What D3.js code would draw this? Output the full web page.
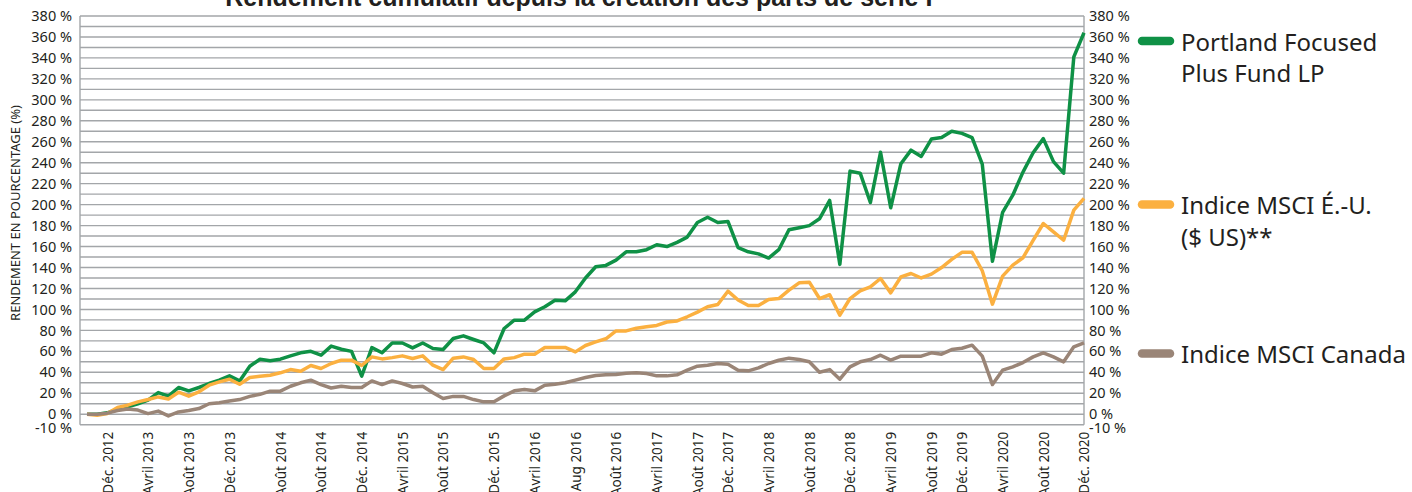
<!DOCTYPE html>
<html>
<head>
<meta charset="utf-8">
<script src="https://cdn.jsdelivr.net/npm/d3@7"></script>
<style>
  body { margin: 0; background: #fff; }
  svg { display: block; font-family: "Noto Sans", sans-serif; }
</style>
</head>
<body>
<svg id="chart" width="1412" height="492"></svg>
<script>
// monthly cumulative returns (%), Oct 2012 -> Dec 2020
const portland = [
    0, 0, 1.3, 4.8, 7, 10, 13.4, 20.7, 17.2, 25.5, 22.3, 25.5, 29.3, 32.5, 36.6, 31.8,
    45.8, 52.5, 51, 52.5, 55.7, 58.6, 60, 56.3, 65, 62, 60, 36.3, 63.6, 58.6, 68, 68,
    63.3, 68, 62.7, 61.7, 72.2, 74.8, 71.3, 68, 58.6, 81.8, 89.7, 89.7, 97.7, 102.5, 108.8, 108.2,
    116.8, 130, 140.7, 142, 147, 155, 155, 157, 161.7, 160, 164, 169, 183, 188, 183, 184,
    159, 155, 153, 149, 157, 176, 178, 180, 186.5, 204, 143, 232, 230, 202, 250, 197,
    239, 252, 246, 262.6, 264, 270, 268, 264, 238.7, 146, 192.6, 209, 231, 249.5, 263, 241,
    230, 341, 364
];
const msciUS = [
    0, -1, 0.6, 6.4, 8.6, 11.8, 14, 16.5, 14.6, 21, 17.2, 21.3, 27.7, 30.9, 33.4, 28.6,
    35, 36.3, 37.2, 39.5, 42.6, 41, 46.5, 43.6, 48.4, 51.6, 51.6, 46.5, 54.7, 52.8, 54, 55.7,
    53.2, 55.7, 46.8, 42.6, 53.5, 54.7, 52.2, 43.6, 43.6, 52.8, 54, 57.3, 57.3, 63.7, 63.7, 63.7,
    59.5, 65.6, 69, 72, 79.5, 79.5, 82, 83.4, 84.7, 88, 89, 93, 97.4, 102.5, 104.7, 117.4,
    109, 103.8, 103.8, 109.5, 110.4, 118.4, 125.4, 126, 110.4, 114, 94.5, 110.4, 117.8, 121.6, 129.5, 115.8,
    131, 134.3, 130, 133.7, 140, 147.7, 154.5, 154.5, 136.9, 105, 131.8, 142.3, 149.3, 166, 182, 174,
    166, 194.8, 206
];
const msciCanada = [
    0, 0, 1, 3.5, 5, 4, 0.6, 3, -1.6, 2.2, 3.5, 5.4, 10, 11, 12.7, 14,
    17, 19, 22, 22, 26.7, 30, 32.5, 28.3, 25, 26.7, 25.5, 25.5, 31.8, 28.3, 31.8, 29.3,
    26, 26.7, 20.4, 15, 17, 17, 14, 11.8, 11.8, 17.5, 22.3, 23.5, 22.3, 27.7, 28.6, 30,
    32.5, 35, 37, 37.6, 38, 39, 39.5, 38.8, 36.6, 36.6, 37.6, 42, 45.8, 46.8, 48.4, 47.7,
    42, 41.4, 44.2, 48.4, 51.5, 53.5, 52.2, 50, 40, 42.6, 33.4, 45.2, 50, 52.2, 56.3, 51.6,
    55.4, 55.4, 55.4, 58.6, 57.3, 61.7, 63, 65.9, 55.4, 28.3, 42, 45.2, 49.3, 54.7, 58.6, 54.7,
    50, 64.3, 68.1
];

// x axis labels (as printed) and the month index they sit on
const tickLabels = ["Déc. 2012", "Avril 2013", "Août 2013", "Déc. 2013", "Août 2014", "Août 2014",
    "Déc. 2014", "Avril 2015", "Août 2015", "Déc. 2015", "Avril 2016", "Aug 2016", "Août 2016",
    "Avril 2017", "Août 2017", "Déc. 2017", "Avril 2018", "Août 2018", "Déc. 2018", "Avril 2019",
    "Août 2019", "Déc. 2019", "Avril 2020", "Août 2020", "Déc. 2020"];
const tickMonths = [2, 6, 10, 14, 19, 23, 27, 31, 35, 40, 44, 48, 52, 56, 60, 63,
    67, 71, 75, 79, 83, 86, 90, 94, 98];

const yTicks = [-10, 0, 20, 40, 60, 80, 100, 120, 140, 160, 180, 200, 220, 240, 260,
    280, 300, 320, 340, 360, 380];

const seriesNames = [["Portland Focused", "Plus Fund LP"], ["Indice MSCI É.-U.", "($ US)**"], ["Indice MSCI Canada"]];
const seriesColors = ["#0f9146", "#fbb040", "#9a8577"];
const seriesData = [portland, msciUS, msciCanada];

const title = "Rendement cumulatif depuis la création des parts de série F";
const yTitle = "RENDEMENT EN POURCENTAGE (%)";

const margin = { top: 16, left: 80, right: 1084, bottom: 424.7 };
const textColor = "#231f20";
const gridColor = "#a3a6a9";

const svg = d3.select("#chart");

const x = d3.scaleLinear().domain([-0.69, 98]).range([margin.left, margin.right]);
const y = d3.scaleLinear().domain([-10, 380]).range([margin.bottom, margin.top]);

// gridlines every 10 %
svg.append("g")
    .selectAll("line")
    .data(d3.range(-10, 381, 10))
    .join("line")
    .attr("x1", margin.left)
    .attr("x2", margin.right)
    .attr("y1", d => y(d))
    .attr("y2", d => y(d))
    .attr("stroke", gridColor)
    .attr("stroke-width", 1.4);

// plot frame sides
svg.append("g")
    .selectAll("line")
    .data([margin.left, margin.right])
    .join("line")
    .attr("x1", d => d).attr("x2", d => d)
    .attr("y1", margin.top).attr("y2", margin.bottom)
    .attr("stroke", gridColor)
    .attr("stroke-width", 1.4);

// left and right y axes
const yLeft = svg.append("g")
    .attr("transform", `translate(${margin.left},0)`)
    .call(d3.axisLeft(y).tickValues(yTicks).tickSize(0).tickPadding(8).tickFormat(d => d + " %"));
const yRight = svg.append("g")
    .attr("transform", `translate(${margin.right},0)`)
    .call(d3.axisRight(y).tickValues(yTicks).tickSize(0).tickPadding(5).tickFormat(d => d + " %"));

[yLeft, yRight].forEach(ax => {
    ax.select(".domain").remove();
    ax.selectAll("text")
        .attr("fill", textColor)
        .style("font-family", "Noto Sans")
        .style("font-size", "14.5px");
    // the -10 % label sits a little under its line
    ax.selectAll(".tick")
        .filter(d => d === -10)
        .select("text")
        .attr("dy", "0.55em");
});

// x axis labels
const xAxis = svg.append("g")
    .attr("transform", `translate(0,${margin.bottom})`)
    .call(d3.axisBottom(x).tickValues(tickMonths).tickSize(0).tickFormat((d, i) => tickLabels[i]));
xAxis.select(".domain").remove();
xAxis.selectAll("text")
    .attr("fill", textColor)
    .style("font-family", "Noto Sans")
    .style("font-size", "13.5px")
    .attr("text-anchor", "end")
    .attr("transform", "rotate(-90)")
    .attr("x", -7)
    .attr("y", 0)
    .attr("dy", "0.35em");

// series lines
const line = d3.line()
    .x((d, i) => x(i))
    .y(d => y(d));

svg.append("g")
    .selectAll("path")
    .data(seriesData)
    .join("path")
    .attr("d", d => line(d))
    .attr("fill", "none")
    .attr("stroke", (d, i) => seriesColors[i])
    .attr("stroke-width", 3.5)
    .attr("stroke-linejoin", "round");

// title (sits partly above the picture edge)
svg.append("text")
    .attr("x", 583)
    .attr("y", 6)
    .attr("text-anchor", "middle")
    .style("font-family", "Liberation Sans")
    .style("font-weight", "bold")
    .style("font-size", "25px")
    .attr("fill", textColor)
    .text(title);

// y axis title
svg.append("text")
    .attr("transform", "translate(20,213) rotate(-90)")
    .attr("text-anchor", "middle")
    .style("font-size", "13px")
    .attr("fill", textColor)
    .text(yTitle);

// legend
const legendY = [41, 204.5, 353.5];
const legend = svg.append("g");
seriesNames.forEach((names, i) => {
    const g = legend.append("g").attr("transform", `translate(0,${legendY[i]})`);
    g.append("line")
        .attr("x1", 1142).attr("x2", 1170)
        .attr("stroke", seriesColors[i])
        .attr("stroke-width", 8.5)
        .attr("stroke-linecap", "round");
    g.append("text")
        .attr("x", 1181)
        .attr("y", 9.5)
        .attr("fill", textColor)
        .style("font-size", "24px")
        .selectAll("tspan")
        .data(names)
        .join("tspan")
        .attr("x", 1181)
        .attr("dy", (d, j) => j === 0 ? 0 : 31.5)
        .text(d => d);
});
</script>
</body>
</html>
